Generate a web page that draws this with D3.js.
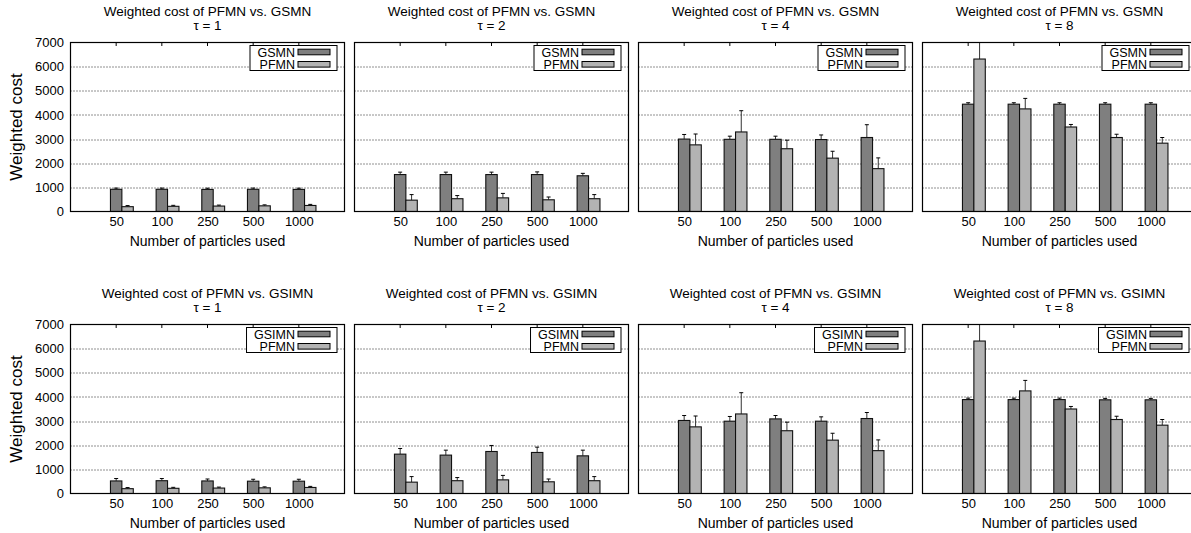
<!DOCTYPE html>
<html><head><meta charset="utf-8">
<script src="https://cdn.jsdelivr.net/npm/d3@7"></script>
<style>
body{margin:0;background:#fff}
svg{display:block}
text{font-family:"Liberation Sans",Arial,Helvetica,sans-serif;fill:#000}
</style>
</head><body>
<svg id="c" width="1191" height="533"></svg>
<script>
// ---------- data ----------
const categories = ["50", "100", "250", "500", "1000"];
const tauValues = [1, 2, 4, 8];
const yTickValues = [0, 1000, 2000, 3000, 4000, 5000, 6000, 7000];
const rowMethods = ["GSMN", "GSIMN"];
const xAxisTitle = "Number of particles used";
const yAxisTitle = "Weighted cost";

// GSMN (top row), one array per tau
const gsmnCost = [
  [920, 920, 915, 920, 915],
  [1530, 1530, 1530, 1530, 1480],
  [3000, 2990, 2990, 2980, 3065],
  [4445, 4445, 4445, 4445, 4445]
];
const gsmnErr = [
  [50, 50, 50, 50, 50],
  [100, 100, 100, 110, 100],
  [190, 130, 130, 190, 530],
  [60, 60, 60, 60, 60]
];
// GSIMN (bottom row)
const gsimnCost = [
  [520, 530, 520, 510, 510],
  [1630, 1590, 1740, 1700, 1560],
  [3025, 2995, 3090, 2995, 3105],
  [3890, 3890, 3890, 3880, 3880]
];
const gsimnErr = [
  [100, 90, 80, 80, 80],
  [235, 205, 250, 220, 235],
  [205, 195, 140, 180, 250],
  [60, 60, 60, 60, 60]
];
// PFMN (both rows)
const pfmnCost = [
  [200, 215, 225, 235, 250],
  [470, 530, 565, 485, 530],
  [2760, 3295, 2600, 2210, 1775],
  [6315, 4250, 3500, 3065, 2830]
];
const pfmnErr = [
  [45, 40, 40, 40, 45],
  [230, 130, 185, 115, 170],
  [450, 880, 355, 285, 445],
  [1000, 435, 105, 135, 235]
];

// ---------- layout ----------
const svg = d3.select("#c");
const W = 274, H = 169;
const panelLeft = c => 70.5 + c * 284;
const panelTop = r => 42.5 + r * 282;
const darkFill = "#7f7f7f", lightFill = "#b3b3b3";

const y = d3.scaleLinear().domain([0, 7000]).range([H, 0]);
const x = d3.scalePoint().domain(categories).range([0, W]).padding(1);
const barW = x.step() * 0.25;

svg.append("defs").append("clipPath").attr("id", "plotclip")
  .append("rect").attr("x", 0).attr("y", 0).attr("width", W).attr("height", H);

rowMethods.forEach((method, ri) => {
  const costA = ri === 0 ? gsmnCost : gsimnCost;
  const errA = ri === 0 ? gsmnErr : gsimnErr;

  tauValues.forEach((tau, ci) => {
    const g = svg.append("g").attr("transform", `translate(${panelLeft(ci)},${panelTop(ri)})`);

    // titles
    g.append("text").attr("x", W / 2).attr("y", -27).attr("text-anchor", "middle")
      .style("font-size", "13.5px").text(`Weighted cost of PFMN vs. ${method}`);
    g.append("text").attr("x", W / 2).attr("y", -12.5).attr("text-anchor", "middle")
      .style("font-size", "13.5px").text(`\u03c4 = ${tau}`);

    // grid
    g.selectAll("line.grid").data(yTickValues.filter(v => v > 0 && v < 7000)).join("line")
      .attr("class", "grid")
      .attr("x1", 0).attr("x2", W)
      .attr("y1", d => Math.round(y(d)) + 0.5).attr("y2", d => Math.round(y(d)) + 0.5)
      .attr("stroke", "#222").attr("stroke-width", 1).attr("stroke-dasharray", "1 2");

    // x axis labels (via d3 axis)
    const xa = g.append("g").attr("transform", `translate(0,${H})`)
      .call(d3.axisBottom(x).tickSize(0).tickPadding(5));
    xa.select(".domain").remove();
    xa.selectAll("text").style("font-size", "13px").attr("fill", "#000")
      .style("font-family", '"Liberation Sans",Arial,sans-serif');

    // top ticks (mirror)
    g.selectAll("line.ttick").data(categories).join("line").attr("class", "ttick")
      .attr("x1", d => x(d)).attr("x2", d => x(d)).attr("y1", 0).attr("y2", 3.5)
      .attr("stroke", "#000");

    // y axis labels on first column
    if (ci === 0) {
      const ya = g.append("g").call(d3.axisLeft(y).tickValues(yTickValues)
        .tickFormat(d3.format("d")).tickSize(0).tickPadding(6.5));
      ya.select(".domain").remove();
      ya.selectAll("text").style("font-size", "13px").attr("fill", "#000")
        .style("font-family", '"Liberation Sans",Arial,sans-serif');
    }

    const gc = g.append("g").attr("clip-path", "url(#plotclip)");
    const series = [
      { cost: costA[ci], err: errA[ci], off: 0, fill: darkFill },
      { cost: pfmnCost[ci], err: pfmnErr[ci], off: 1, fill: lightFill }
    ];
    series.forEach(s => {
      const data = categories.map((c, i) => ({ c, v: s.cost[i], e: s.err[i] }));
      const cx = d => x(d.c) + s.off * barW;
      // error bars
      gc.selectAll(null).data(data).join("line")
        .attr("x1", cx).attr("x2", cx)
        .attr("y1", d => y(d.v)).attr("y2", d => y(d.v + d.e))
        .attr("stroke", "#333").attr("stroke-width", 1);
      gc.selectAll(null).data(data).join("line")
        .attr("x1", d => cx(d) - 2).attr("x2", d => cx(d) + 2)
        .attr("y1", d => y(d.v + d.e)).attr("y2", d => y(d.v + d.e))
        .attr("stroke", "#000").attr("stroke-width", 1);
      // bars
      gc.selectAll(null).data(data).join("rect")
        .attr("x", d => cx(d) - barW / 2).attr("width", barW)
        .attr("y", d => y(d.v)).attr("height", d => y(0) - y(d.v))
        .attr("fill", s.fill).attr("stroke", "#111").attr("stroke-width", 1.1);
    });

    // legend
    const lg = g.append("g");
    const names = [method, "PFMN"];
    const fills = [darkFill, lightFill];
    const lbox = lg.append("rect").attr("fill", "#fff").attr("stroke", "#000").attr("stroke-width", 1);
    const texts = names.map((n, i) => lg.append("text").attr("text-anchor", "end")
      .attr("dy", "0.36em").style("font-size", "12.5px").text(n));
    const tw = d3.max(texts, t => t.node().getComputedTextLength());
    const sampleW = 32, padR = 7, padL = 7.5, gap = 3;
    const boxW = padL + tw + gap + sampleW + padR;
    const boxRight = W - 7.5, boxTop = 3;
    lbox.attr("x", boxRight - boxW).attr("y", boxTop).attr("width", boxW).attr("height", 25);
    names.forEach((n, i) => {
      const cy = boxTop + 6.5 + i * 12.3;
      texts[i].attr("x", boxRight - padR - sampleW - gap).attr("y", cy);
      lg.append("rect").attr("x", boxRight - padR - sampleW).attr("y", cy - 2.8)
        .attr("width", sampleW).attr("height", 5.6)
        .attr("fill", fills[i]).attr("stroke", "#000").attr("stroke-width", 1);
    });

    // border
    g.append("rect").attr("x", 0).attr("y", 0).attr("width", W).attr("height", H)
      .attr("fill", "none").attr("stroke", "#000").attr("stroke-width", 1.2);

    // x axis title
    g.append("text").attr("x", W / 2).attr("y", H + 34).attr("text-anchor", "middle")
      .style("font-size", "14px").text(xAxisTitle);

    if (ci === 0) {
      svg.append("text")
        .attr("transform", `translate(${16 + 6},${panelTop(ri) + H / 2}) rotate(-90)`)
        .attr("text-anchor", "middle").style("font-size", "17px").text(yAxisTitle);
    }
  });
});
</script>
</body></html>
